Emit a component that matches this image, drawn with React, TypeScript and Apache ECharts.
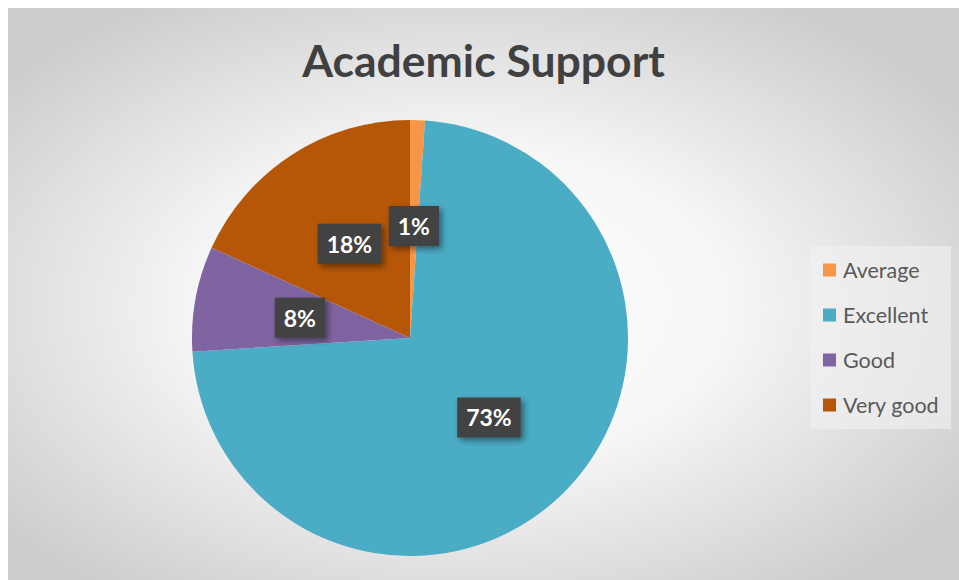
import React, { useEffect, useRef } from "react";
import * as echarts from "echarts";

const categories = ["Average", "Excellent", "Good", "Very good"];
const values = [1.1, 72.9, 7.8, 18.2];
const colors = ["#F79646", "#4BACC6", "#8064A2", "#B65708"];
const titleText = "Academic Support";

export default function App() {
  const ref = useRef<HTMLDivElement>(null);
  useEffect(() => {
    document.documentElement.style.overflow = "hidden";
    const chart = echarts.init(ref.current!, null, { renderer: "svg" });
    chart.setOption({
      animation: false,
      backgroundColor: {
        type: "radial",
        x: 0.48,
        y: 0.52,
        r: 0.62,
        colorStops: [
          { offset: 0, color: "#ffffff" },
          { offset: 0.45, color: "#f6f6f6" },
          { offset: 1, color: "#cdcdcd" },
        ],
      },
      title: {
        text: titleText,
        left: "center",
        top: 24,
        padding: [5, 5, 5, 30],
        textStyle: {
          fontFamily: "Lato",
          fontWeight: "bold",
          fontSize: 44.5,
          color: "#404040",
        },
      },
      legend: {
        orient: "vertical",
        left: 803,
        top: 238,
        padding: [13, 12, 13, 12],
        backgroundColor: "rgba(242,242,242,0.6)",
        icon: "rect",
        itemWidth: 13,
        itemHeight: 13,
        itemGap: 23,
        data: categories,
        textStyle: {
          fontFamily: "Lato",
          fontSize: 21.5,
          lineHeight: 22,
          color: "#595959",
          padding: [0, 0, 0, 2],
        },
      },
      series: [
        {
          type: "pie",
          center: [402, 330],
          radius: 218,
          startAngle: 90,
          clockwise: true,
          percentPrecision: 0,
          data: categories.map((c, i) => ({
            name: c,
            value: values[i],
            itemStyle: { color: colors[i] },
          })),
          label: {
            show: true,
            position: "inside",
            formatter: "{d}%",
            fontFamily: "Lato",
            fontWeight: "bold",
            fontSize: 23,
            color: "#ffffff",
            backgroundColor: "#424242",
            padding: [9, 9, 8, 9],
            shadowColor: "rgba(0,0,0,0.45)",
            shadowBlur: 6,
            shadowOffsetX: 3,
            shadowOffsetY: 3,
          },
          labelLine: { show: false },
          emphasis: { disabled: true },
        },
      ],
    });
    return () => chart.dispose();
  }, []);
  return (
    <div
      ref={ref}
      style={{
        position: "absolute",
        left: 8,
        top: 8,
        width: 951,
        minWidth: 951,
        maxWidth: "none",
        height: 572,
      }}
    />
  );
}
